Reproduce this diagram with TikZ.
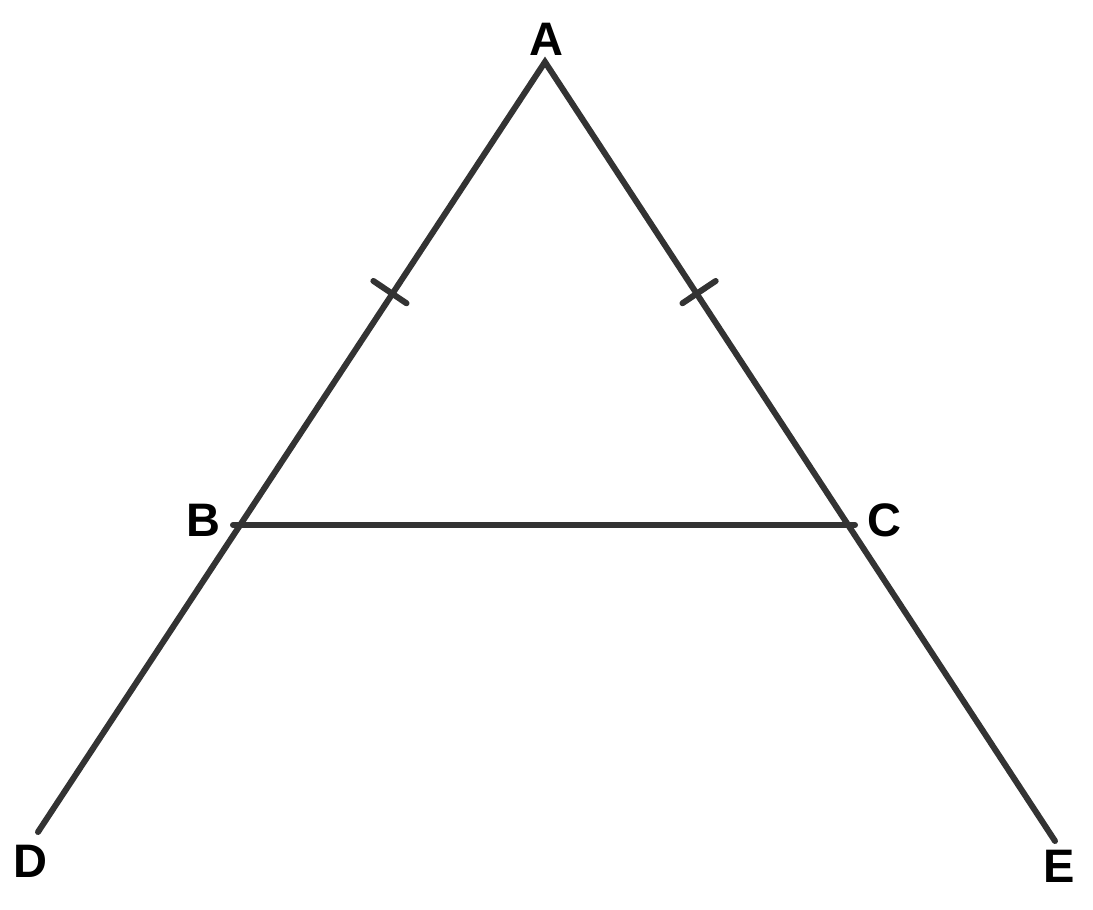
\documentclass[tikz,border=0pt]{standalone}
\usepackage{fontspec}
\setmainfont{Liberation Sans}
\usetikzlibrary{calc}
\definecolor{linegray}{HTML}{333333}
\tikzset{
  seg/.style={draw=linegray, line width=6pt, line cap=round},
  tick/.style={draw=linegray, line width=6pt, line cap=round},
  lbl/.style={font=\fontsize{47}{47}\selectfont\bfseries, text=black, inner sep=0pt}
}
\begin{document}
\begin{tikzpicture}[x=1pt,y=-1pt]
\useasboundingbox (0,0) rectangle (1093,910);
\coordinate (A) at (545,62);
\coordinate (B) at (233,525);
\coordinate (C) at (855,525);
\coordinate (D) at (38,832);
\coordinate (E) at (1055,841);
\draw[seg] (D) -- (A) -- (E);
\draw[seg] (B) -- (C);
\coordinate (m1) at ($(A)!0.497!(B)$);
\coordinate (m2) at ($(A)!0.497!(C)$);
\draw[tick] ($(m1)!20pt!90:(A)$) -- ($(m1)!20pt!-90:(A)$);
\draw[tick] ($(m2)!20pt!90:(A)$) -- ($(m2)!20pt!-90:(A)$);
\node[lbl] (lA) at (546,39) {A};
\node[lbl] (lB) at (203,520) {B};
\node[lbl] (lC) at (884,520) {C};
\node[lbl] (lD) at (30,861) {D};
\node[lbl] (lE) at (1059,866) {E};
\end{tikzpicture}
\end{document}
